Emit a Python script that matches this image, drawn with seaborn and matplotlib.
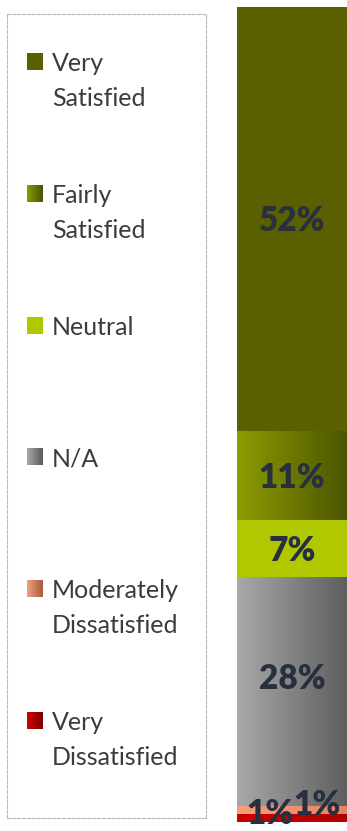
import numpy as np
import pandas as pd
import matplotlib
matplotlib.use("Agg")
import matplotlib.pyplot as plt
import matplotlib.colors as mcolors
import seaborn as sns

# Survey response shares (bottom of the stack first)
categories = ["Very Dissatisfied", "Moderately Dissatisfied", "N/A",
              "Neutral", "Fairly Satisfied", "Very Satisfied"]
legend_labels = ["Very\nDissatisfied", "Moderately\nDissatisfied", "N/A",
                 "Neutral", "Fairly\nSatisfied", "Very\nSatisfied"]
shares = [1, 1, 28, 7, 11, 52]
value_labels = ["1%", "1%", "28%", "7%", "11%", "52%"]

# Fill styles: (left colour, right colour) of a horizontal gradient
bar_fills = [("#cc0000", "#b00000"),
             ("#f4a07c", "#e58462"),
             ("#a9a9a9", "#5e5e5e"),
             ("#b1c800", "#b1c800"),
             ("#8c9c00", "#4c5400"),
             ("#5a6000", "#5a6000")]
key_fills = [("#d40000", "#7a0000"),
             ("#f2a080", "#a85a3c"),
             ("#a8a8a8", "#5a5a5a"),
             ("#b1c800", "#b1c800"),
             ("#8c9c00", "#4a5200"),
             ("#5a6000", "#5a6000")]
# label nudges in pixels (dx, dy)
label_nudge = [(-22, 6), (25, 7), (0, 15), (0, 0), (0, 0), (0, 0)]

W, H, DPI = 347, 831, 100
fig = plt.figure(figsize=(W / DPI, H / DPI), dpi=DPI)
sns.set_style("white")
plt.rcParams["font.family"] = ["Lato", "DejaVu Sans"]


def gradient(c0, c1, n=128):
    a = np.array(mcolors.to_rgb(c0))
    b = np.array(mcolors.to_rgb(c1))
    t = np.linspace(0, 1, n)[:, None]
    return (a + (b - a) * t)[None, :, :]


# ---- stacked bar --------------------------------------------------------
ax = fig.add_axes([237 / W, 9 / H, 110 / W, 815 / H])
tops = np.cumsum(shares)
bottoms = tops - np.array(shares)
df = pd.DataFrame({"group": [""] * len(categories), "top": tops,
                   "category": categories})
# overlay cumulative bars, tallest first
for i in range(len(categories) - 1, -1, -1):
    sns.barplot(data=df.iloc[[i]], x="group", y="top", color=bar_fills[i][0],
                width=1.0, saturation=1, ax=ax, linewidth=0, zorder=1)

for i in range(len(categories)):
    ax.imshow(gradient(*bar_fills[i]), extent=(-0.5, 0.5, bottoms[i], tops[i]),
              aspect="auto", interpolation="bilinear", zorder=2)
    mid = (bottoms[i] + tops[i]) / 2
    dx, dy = label_nudge[i]
    ax.annotate(value_labels[i], (0, mid),
                xytext=(dx * 72 / DPI, (dy - 12) * 72 / DPI),
                textcoords="offset points", ha="center", va="baseline",
                fontsize=24, fontweight="heavy", color="#28303f",
                zorder=3, annotation_clip=False, clip_on=False)

ax.set_xlim(-0.5, 0.5)
ax.set_ylim(0, 100)
ax.set_axis_off()

# ---- legend panel -------------------------------------------------------
lax = fig.add_axes([7 / W, 13 / H, 199 / W, 804 / H])
lax.set_xticks([])
lax.set_yticks([])
for s in lax.spines.values():
    s.set_linestyle((0, (3, 1.5)))
    s.set_color("#b8b8b8")
    s.set_linewidth(0.8)

first_line = 62.0
step = 131.6
line_gap = 35.0
order = list(range(len(categories) - 1, -1, -1))
for k, i in enumerate(order):
    yc = first_line + step * k
    lax.imshow(gradient(*key_fills[i]), extent=(27, 43, yc + 8, yc - 8),
               aspect="auto", interpolation="bilinear", zorder=2)
    for j, line in enumerate(legend_labels[i].split("\n")):
        lax.text(52, yc + j * line_gap + 9, line, ha="left", va="baseline",
                 fontsize=18, color="#3c3c3c")
lax.set_xlim(7, 206)
lax.set_ylim(817, 14)

fig.savefig("out.png", dpi=DPI)
